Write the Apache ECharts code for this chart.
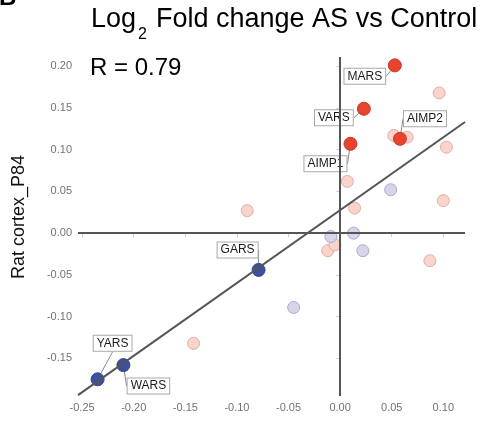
<!DOCTYPE html>
<html>
<head>
<meta charset="utf-8">
<script src="https://cdn.jsdelivr.net/npm/echarts@6/dist/echarts.min.js"></script>
<style>
  html, body { margin: 0; padding: 0; background: #ffffff; }
  #chart { width: 498px; height: 421px; }
</style>
</head>
<body>
<div id="chart"></div>
<script>
// Labelled synthetase genes, log2 fold change (x: reference set, y: rat cortex P84)
const upGenes = ['MARS', 'VARS', 'AIMP2', 'AIMP1'];
const upX = [0.053, 0.023, 0.058, 0.010];
const upY = [0.201, 0.149, 0.113, 0.107];

const downGenes = ['GARS', 'YARS', 'WARS'];
const downX = [-0.079, -0.235, -0.210];
const downY = [-0.044, -0.175, -0.158];

// Remaining genes, up-regulated (pink) and down-regulated (lavender)
const otherUpX = [0.096, 0.052, 0.065, 0.103, 0.007, 0.014, 0.100, -0.090, -0.012, -0.005, 0.087, -0.142];
const otherUpY = [0.168, 0.117, 0.115, 0.103, 0.062, 0.030, 0.039, 0.027, -0.021, -0.014, -0.033, -0.132];
const otherDownX = [0.049, 0.013, -0.009, 0.022, -0.045];
const otherDownY = [0.052, 0.000, -0.004, -0.021, -0.089];

// Linear fit and correlation
const fitSlope = 0.872;
const fitIntercept = 0.0276;
const corrR = '0.79';

// Axis ticks
const xTicks = [-0.25, -0.20, -0.15, -0.10, -0.05, 0.00, 0.05, 0.10];
const yTicks = [-0.15, -0.10, -0.05, 0.00, 0.05, 0.10, 0.15, 0.20];

const xMin = -0.254, xMax = 0.121;
const yMin = -0.195, yMax = 0.211;

// Where each gene tag sits relative to its point (px)
const tagShift = {
  MARS: [-30, 11], VARS: [-30, 9], AIMP2: [25, -20], AIMP1: [-25, 20],
  GARS: [-21, -20], YARS: [15, -36], WARS: [25, 21]
};

const FONT = 'Liberation Sans, Arial, sans-serif';
const zip = (xs, ys) => xs.map((x, i) => [x, ys[i]]);
const zipNamed = (names, xs, ys) => names.map((n, i) => ({ name: n, value: [xs[i], ys[i]] }));

const tagLabel = {
  show: true,
  position: 'inside',
  formatter: '{b}',
  fontFamily: FONT,
  fontSize: 12,
  color: '#1a1a1a',
  backgroundColor: '#ffffff',
  borderColor: '#a8a8a8',
  borderWidth: 1,
  padding: [2, 3, 1, 3]
};
const tagLine = { show: true, lineStyle: { color: '#8a8a8a', width: 1 } };
const tagLayout = names => params => {
  const s = tagShift[names[params.dataIndex]];
  return { dx: s[0], dy: s[1] };
};

const axisCommon = {
  axisLine: { show: true, lineStyle: { color: '#cdd1e2', width: 1 } },
  axisTick: { show: true, length: 4, lineStyle: { color: '#cdd1e2' } },
  splitLine: { show: false },
  axisLabel: {
    color: '#737373', fontSize: 11, fontFamily: FONT,
    formatter: v => v.toFixed(2)
  }
};

const chart = echarts.init(document.getElementById('chart'), null, { renderer: 'canvas' });

chart.setOption({
  animation: false,
  backgroundColor: '#ffffff',
  grid: { left: 78, right: 33, top: 57, bottom: 25, containLabel: false },
  xAxis: Object.assign({}, axisCommon, {
    type: 'value', min: xMin, max: xMax,
    axisTick: Object.assign({}, axisCommon.axisTick, { customValues: xTicks }),
    axisLabel: Object.assign({}, axisCommon.axisLabel, { customValues: xTicks, margin: 6 })
  }),
  yAxis: Object.assign({}, axisCommon, {
    type: 'value', min: yMin, max: yMax,
    axisTick: Object.assign({}, axisCommon.axisTick, { customValues: yTicks }),
    axisLabel: Object.assign({}, axisCommon.axisLabel, { customValues: yTicks, margin: 6 })
  }),
  graphic: [
    { type: 'text', left: -1, top: -14,
      style: { text: 'B', font: 'bold 24px ' + FONT, fill: '#000' } },
    { type: 'text', x: 91, y: 20,
      style: { text: 'Log', font: '27px ' + FONT, fill: '#000', verticalAlign: 'middle' } },
    { type: 'text', x: 138, y: 35,
      style: { text: '2', font: '16px ' + FONT, fill: '#000', verticalAlign: 'middle' } },
    { type: 'text', x: 156, y: 20,
      style: { text: 'Fold change AS vs Control', font: '27px ' + FONT, fill: '#000', verticalAlign: 'middle' } },
    { type: 'text', x: 90, y: 68,
      style: { text: 'R = ' + corrR, font: '24px ' + FONT, fill: '#000', verticalAlign: 'middle' } },
    { type: 'text', x: 19, y: 217, rotation: Math.PI / 2,
      style: { text: 'Rat cortex_P84', font: '18px ' + FONT, fill: '#111', align: 'center', verticalAlign: 'middle' } }
  ],
  series: [
    {
      type: 'scatter', z: 2, symbolSize: 12,
      data: zip(otherUpX, otherUpY),
      itemStyle: { color: '#fad3cb', borderColor: '#e0b0a6', borderWidth: 1, opacity: 1 }
    },
    {
      type: 'scatter', z: 2, symbolSize: 12,
      data: zip(otherDownX, otherDownY),
      itemStyle: { color: '#d6d5ea', borderColor: '#acabcf', borderWidth: 1, opacity: 1 }
    },
    {
      type: 'scatter', z: 3, symbolSize: 13,
      data: zipNamed(upGenes, upX, upY),
      itemStyle: { color: '#e8432d', borderColor: '#c93a27', borderWidth: 1, opacity: 1 },
      label: tagLabel, labelLine: tagLine, labelLayout: tagLayout(upGenes)
    },
    {
      type: 'scatter', z: 3, symbolSize: 13,
      data: zipNamed(downGenes, downX, downY),
      itemStyle: { color: '#3e4f9f', borderColor: '#344488', borderWidth: 1, opacity: 1 },
      label: tagLabel, labelLine: tagLine, labelLayout: tagLayout(downGenes)
    },
    {
      // fitted regression line over the full x range
      type: 'line', z: 4, symbol: 'none', silent: true,
      data: [[xMin, fitIntercept + fitSlope * xMin], [xMax, fitIntercept + fitSlope * xMax]],
      lineStyle: { color: '#555555', width: 2 },
      markLine: {
        silent: true, symbol: 'none', label: { show: false },
        lineStyle: { color: '#555555', width: 2, type: 'solid' },
        data: [{ xAxis: 0 }, { yAxis: 0 }]
      }
    }
  ]
});
</script>
</body>
</html>
